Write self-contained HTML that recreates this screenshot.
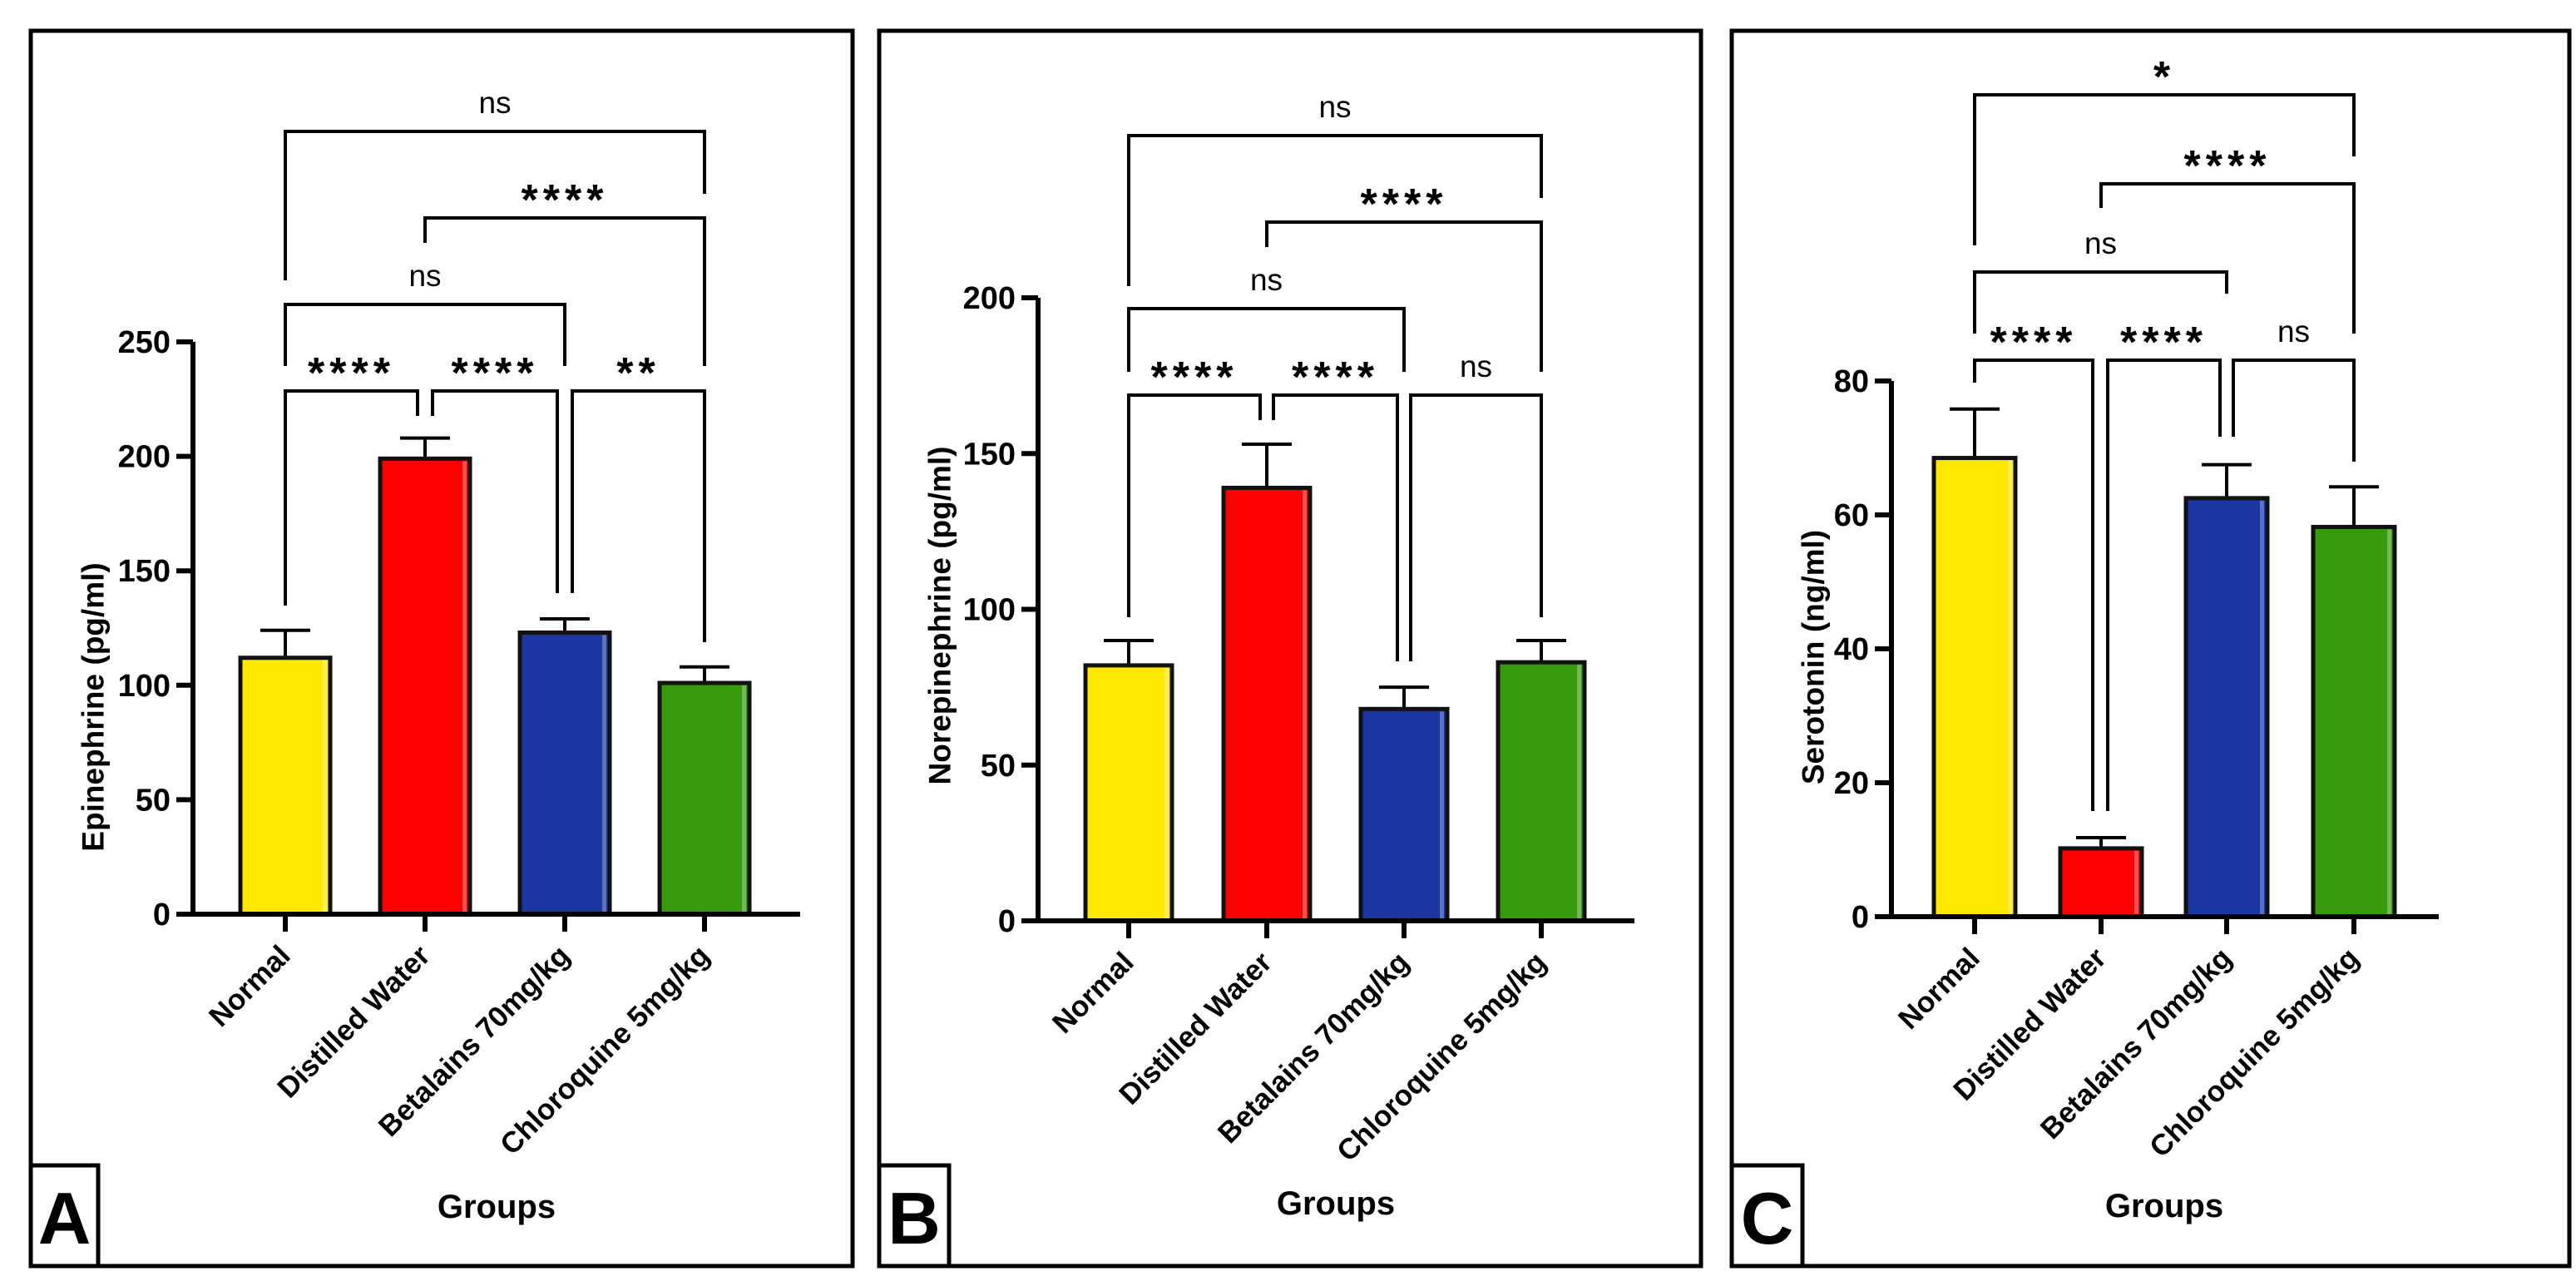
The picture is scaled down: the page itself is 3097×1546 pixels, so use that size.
<!DOCTYPE html>
<html><head><meta charset="utf-8"><style>
html,body{margin:0;padding:0;background:#fff}
svg{display:block;font-family:"Liberation Sans",Arial,sans-serif}
</style></head><body>
<svg id="fig" width="3097" height="1546" viewBox="0 0 3097 1546"></svg>
<script>
const categories = ["Normal","Distilled Water","Betalains 70mg/kg","Chloroquine 5mg/kg"];
const colors = ["#FFE800","#FF0000","#1B35A2","#369A0C"];
const epiValues = [112,199,123,101];
const epiErrors = [12,9,6,7];
const epiTicks = [0,50,100,150,200,250];
const norValues = [82,139,68,83];
const norErrors = [8,14,7,7];
const norTicks = [0,50,100,150,200];
const serValues = [68.5,10.2,62.5,58.2];
const serErrors = [7.3,1.6,5,6];
const serTicks = [0,20,40,60,80];

const NS = "http://www.w3.org/2000/svg";
const svg = document.getElementById('fig');
function mk(tag, attrs, parent){
  const e = document.createElementNS(NS, tag);
  for (const k in attrs) e.setAttribute(k, attrs[k]);
  (parent||svg).appendChild(e);
  return e;
}

const panels = [
 {id:'a', letter:'A', fx0:37, fx1:1025, ax:232, xEnd:962, zeroY:1099, topY:411, max:250,
  centers:[343,511,679,847], bw:108, values:epiValues, errors:epiErrors, ticks:epiTicks,
  ylabel:'Epinephrine (pg/ml)', ylx:112, yly:850, gx:597, gy:1464, box:[37,118],
  levels:[470,366,262,158],
  brackets:[
   [0,1,0,'****',0,-9,728,500],[1,2,0,'****',9,-9,500,713],[2,3,0,'**',9,0,713,772],
   [0,2,1,'ns',0,0,440,440],[1,3,2,'****',0,0,292,440],[0,3,3,'ns',0,0,337,233]]},
 {id:'b', letter:'B', fx0:1057, fx1:2045, ax:1248, xEnd:1965, zeroY:1107, topY:358, max:200,
  centers:[1357,1523,1688,1853], bw:104, values:norValues, errors:norErrors, ticks:norTicks,
  ylabel:'Norepinephrine (pg/ml)', ylx:1130, yly:740, gx:1606, gy:1460, box:[1057,1141],
  levels:[475,371,267,163],
  brackets:[
   [0,1,0,'****',0,-8,742,505],[1,2,0,'****',8,-8,505,795],[2,3,0,'ns',8,0,795,742],
   [0,2,1,'ns',0,0,447,447],[1,3,2,'****',0,0,297,447],[0,3,3,'ns',0,0,344,238]]},
 {id:'c', letter:'C', fx0:2082, fx1:3089, ax:2274, xEnd:2932, zeroY:1102, topY:458, max:80,
  centers:[2374,2526,2677,2830], bw:98, values:serValues, errors:serErrors, ticks:serTicks,
  ylabel:'Serotonin (ng/ml)', ylx:2180, yly:790, gx:2602, gy:1463, box:[2082,2167],
  levels:[433,327,221,114],
  brackets:[
   [0,1,0,'****',0,-10,460,975],[1,2,0,'****',8,-8,975,525],[2,3,0,'ns',8,0,525,555],
   [0,2,1,'ns',0,0,401,353],[1,3,2,'****',0,0,250,401],[0,3,3,'*',0,0,295,188]]}
];

panels.forEach(p=>{
  const g = mk('g',{});
  
  
  const fr = mk('rect',{x:p.fx0,y:37,width:p.fx1-p.fx0,height:1485,fill:'none',stroke:'#000','stroke-width':5},g);
  
  
  const y = v => p.zeroY - (v/p.max)*(p.zeroY-p.topY);
  p.values.forEach((v,i)=>{
    const cx = p.centers[i];
    const top = y(v), errTop = y(v+p.errors[i]);
    const er = mk('path',{d:`M${cx},${top} V${errTop} M${cx-30},${errTop} H${cx+30}`,stroke:'#000','stroke-width':4,fill:'none'},g);
    
    
    const b = mk('rect',{x:cx-p.bw/2,y:top,width:p.bw,height:p.zeroY-top,fill:colors[i],stroke:'#111','stroke-width':5},g);
    
    
    mk('rect',{x:cx+p.bw/2-9,y:top+3,width:5,height:Math.max(0,p.zeroY-top-6),fill:'#fff',opacity:0.3},g);
    const tk = mk('line',{x1:cx,y1:p.zeroY,x2:cx,y2:p.zeroY+21,stroke:'#000','stroke-width':6},g);
    
    
    const lx = cx+8, ly = p.zeroY+52;
    const t = mk('text',{x:lx,y:ly,'text-anchor':'end','font-size':35,'font-weight':'bold',transform:`rotate(-45 ${lx} ${ly})`},g);
    t.textContent = categories[i];
    
    
  });
  const axes = mk('path',{d:`M${p.ax},${p.topY} V${p.zeroY} M${p.ax-20},${p.zeroY} H${p.xEnd}`,stroke:'#000','stroke-width':6,fill:'none'},g);
  
  
  p.ticks.forEach(tv=>{
    const ty = y(tv);
    mk('line',{x1:p.ax-20,y1:ty,x2:p.ax,y2:ty,stroke:'#000','stroke-width':6},g);
    const tl = mk('text',{x:p.ax-27,y:ty+13,'text-anchor':'end','font-size':38,'font-weight':'bold'},g);
    tl.textContent = tv;
    
    
  });
  const yl = mk('text',{x:p.ylx,y:p.yly,'text-anchor':'middle','font-size':37,'font-weight':'bold',transform:`rotate(-90 ${p.ylx} ${p.yly})`,'dominant-baseline':'central'},g);
  yl.textContent = p.ylabel;
  
  
  const gl = mk('text',{x:p.gx,y:p.gy,'text-anchor':'middle','font-size':40,'font-weight':'bold'},g);
  gl.textContent = 'Groups';
  
  
  const lb = mk('rect',{x:p.box[0],y:1401,width:p.box[1]-p.box[0],height:121,fill:'#fff',stroke:'#000','stroke-width':5},g);
  
  
  const lt = mk('text',{x:(p.box[0]+p.box[1])/2,y:1495,'text-anchor':'middle','font-size':88,'font-weight':'bold'},g);
  lt.textContent = p.letter;
  
  
  p.brackets.forEach(b=>{
    const [i,j,lv,sym,o1,o2,b1,b2] = b;
    const ly = p.levels[lv];
    const x1 = p.centers[i]+o1, x2 = p.centers[j]+o2;
    const br = mk('path',{d:`M${x1},${b1} V${ly} H${x2} V${b2}`,stroke:'#000','stroke-width':4,fill:'none'},g);
    
    
    const isStar = sym.indexOf('*')>=0;
    const st = mk('text',{x:(x1+x2)/2,y:isStar?ly-4:ly-22,'text-anchor':'middle','font-size':isStar?52:37,'font-weight':isStar?'bold':'normal','letter-spacing':isStar?6:0},g);
    st.textContent = sym;
    
    
  });
});
</script>
</body></html>
